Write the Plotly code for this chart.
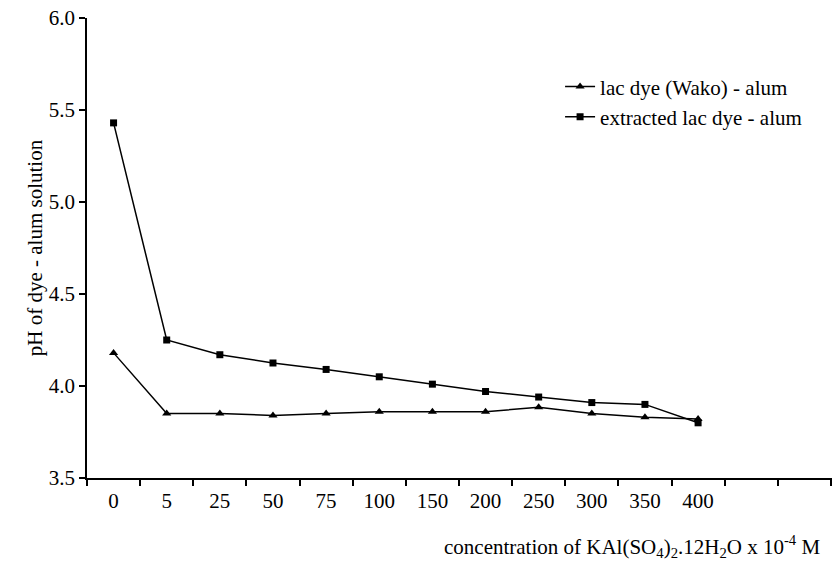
import plotly.graph_objects as go

concentrations = ["0", "5", "25", "50", "75", "100", "150", "200", "250", "300", "350", "400"]
wako_ph = [4.18, 3.85, 3.85, 3.84, 3.85, 3.86, 3.86, 3.86, 3.885, 3.85, 3.83, 3.82]
extracted_ph = [5.43, 4.25, 4.17, 4.125, 4.09, 4.05, 4.01, 3.97, 3.94, 3.91, 3.90, 3.80]
y_ticks = [3.5, 4.0, 4.5, 5.0, 5.5, 6.0]

positions = list(range(len(concentrations)))
FONT = "Liberation Serif, Times New Roman, serif"
FS = 21

fig = go.Figure()
fig.add_trace(go.Scatter(
    x=positions, y=wako_ph, mode="lines+markers",
    name="lac dye (Wako) - alum",
    line=dict(color="black", width=1.5),
    marker=dict(symbol="triangle-up", size=8, color="black"),
))
fig.add_trace(go.Scatter(
    x=positions, y=extracted_ph, mode="lines+markers",
    name="extracted lac dye - alum",
    line=dict(color="black", width=1.5),
    marker=dict(symbol="square", size=7, color="black"),
))

fig.update_layout(
    width=835, height=571,
    margin=dict(l=87, r=3, t=18, b=93),
    paper_bgcolor="white", plot_bgcolor="white",
    font=dict(family=FONT, size=FS, color="black"),
    showlegend=True,
    legend=dict(x=0.635, y=0.895, xanchor="left", yanchor="top",
                bgcolor="rgba(0,0,0,0)", font=dict(size=FS, family=FONT),
                itemwidth=30, tracegroupgap=0),
)
fig.update_xaxes(
    range=[-0.5, 13.52], showgrid=False, zeroline=False, automargin=False,
    showline=True, linecolor="black", linewidth=1.5,
    tickmode="array", tickvals=positions, ticktext=concentrations,
    ticks="", ticklabelstandoff=3, ticklabeloverflow="allow",
    tickfont=dict(size=FS, family=FONT),
    minor=dict(tickmode="linear", tick0=0.5, dtick=1, ticks="outside",
               ticklen=6, tickcolor="black", tickwidth=1.5, showgrid=False),
)
fig.update_yaxes(
    range=[3.5, 6.0], showgrid=False, zeroline=False, automargin=False,
    showline=True, linecolor="black", linewidth=1.5,
    tickmode="array", tickvals=y_ticks, ticktext=[f"{v:.1f}" for v in y_ticks],
    ticks="outside", ticklen=6, tickcolor="black", tickwidth=1.5,
    ticklabeloverflow="allow",
    tickfont=dict(size=FS, family=FONT),
    title=dict(text="pH of dye - alum solution", font=dict(size=FS, family=FONT), standoff=0),
)
fig.add_annotation(
    text="concentration of KAl(SO<sub>4</sub>)<sub>2</sub>.12H<sub>2</sub>O x 10<sup>-4</sup> M",
    xref="paper", yref="paper", x=0.987, y=-0.112, xanchor="right", yanchor="top",
    showarrow=False, font=dict(size=FS, family=FONT, color="black"),
)

# remove the browser's default 8px body margin so the figure fills the window exactly
fig.write_html("out.html", config={"displayModeBar": False},
               post_script="document.body.style.margin='0';")
